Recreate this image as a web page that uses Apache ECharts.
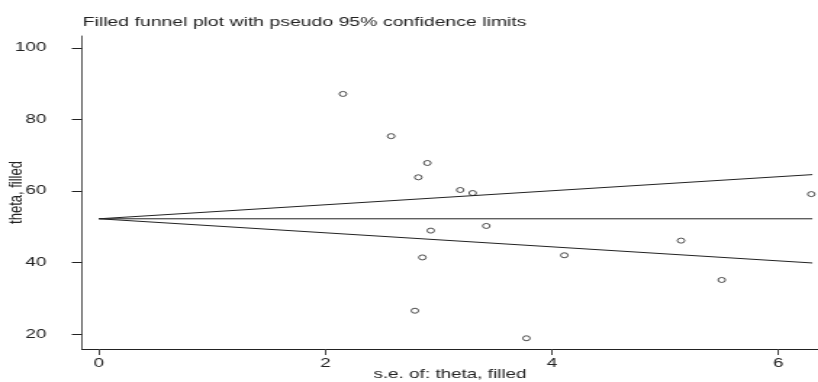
<!DOCTYPE html>
<html>
<head>
<meta charset="utf-8">
<script src="https://cdn.jsdelivr.net/npm/echarts@6/dist/echarts.min.js"></script>
<style>
  html, body { margin: 0; padding: 0; background: #fff; overflow: hidden; }
  /* the reference is a horizontally stretched Stata graph, so stretch ours too */
  #main { width: 564px; height: 382px; transform: scaleX(1.4504); transform-origin: 0 0; }
</style>
</head>
<body>
<div id="main"></div>
<script type="text/javascript">
// study standard errors and effect sizes (filled)
var seValues = [2.155, 2.58, 2.90, 2.82, 3.19, 3.30, 6.29, 2.93, 3.42, 2.856, 4.11, 5.14, 5.50, 2.79, 3.775];
var thetaValues = [87.1, 75.3, 67.8, 63.8, 60.25, 59.4, 59.1, 48.9, 50.2, 41.4, 42.0, 46.1, 35.1, 26.5, 18.8];

// pooled estimate and funnel limits at se = 0 and se = max
var pooledTheta = 52.2;
var funnelSe = [0, 6.3];
var upperLimit = [52.2, 64.55];
var lowerLimit = [52.2, 39.85];

var xTicks = [0, 2, 4, 6];
var yTicks = [20, 40, 60, 80, 100];

var myChart = echarts.init(document.getElementById('main'));

var points = seValues.map(function (s, i) { return [s, thetaValues[i]]; });

var option = {
    animation: false,
    title: {
        text: 'Filled funnel plot with pseudo 95% confidence limits',
        left: 57,
        top: 16,
        padding: 0,
        textStyle: { fontFamily: 'Liberation Sans', fontSize: 13.4, fontWeight: 'normal', color: '#222' }
    },
    grid: { left: 56.5, right: 0, top: 36, bottom: 33, outerBoundsMode: 'none' },
    xAxis: {
        type: 'value',
        min: -0.15,
        max: 6.35,
        name: 's.e. of: theta, filled',
        nameLocation: 'middle',
        nameGap: 19,
        nameMoveOverlap: false,
        nameTextStyle: { fontFamily: 'Liberation Sans', fontSize: 13, color: '#222' },
        axisLine: { show: true, onZero: false, lineStyle: { color: '#222', width: 1 } },
        axisTick: { show: true, length: 6, customValues: xTicks, lineStyle: { color: '#444' } },
        axisLabel: { customValues: xTicks, margin: 8, fontFamily: 'Liberation Sans', fontSize: 13, color: '#222' },
        splitLine: { show: false }
    },
    yAxis: {
        type: 'value',
        min: 15.8,
        max: 103.3,
        name: 'theta, filled',
        nameLocation: 'middle',
        nameGap: 39,
        nameMoveOverlap: false,
        nameTextStyle: { fontFamily: 'Liberation Sans', fontSize: 13, color: '#222' },
        axisLine: { show: true, onZero: false, lineStyle: { color: '#555', width: 1 } },
        axisTick: { show: true, length: 7, customValues: yTicks, lineStyle: { color: '#222' } },
        axisLabel: { customValues: yTicks, margin: 24.5, fontFamily: 'Liberation Sans', fontSize: 13, color: '#222' },
        splitLine: { show: false }
    },
    series: [
        {
            type: 'line',
            data: funnelSe.map(function (s, i) { return [s, upperLimit[i]]; }),
            symbol: 'none',
            lineStyle: { color: '#222', width: 1 }
        },
        {
            type: 'line',
            data: funnelSe.map(function (s) { return [s, pooledTheta]; }),
            symbol: 'none',
            lineStyle: { color: '#222', width: 1 }
        },
        {
            type: 'line',
            data: funnelSe.map(function (s, i) { return [s, lowerLimit[i]]; }),
            symbol: 'none',
            lineStyle: { color: '#222', width: 1 }
        },
        {
            type: 'scatter',
            data: points,
            symbol: 'circle',
            symbolSize: 5,
            itemStyle: { color: '#fff', borderColor: '#222', borderWidth: 1 }
        }
    ]
};

myChart.setOption(option);
</script>
</body>
</html>
